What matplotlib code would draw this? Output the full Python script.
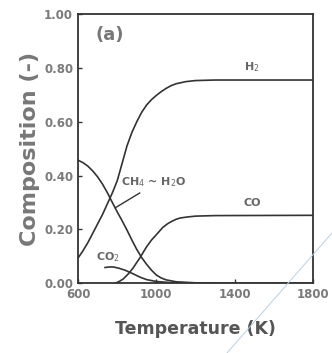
import matplotlib
matplotlib.use("Agg")
import matplotlib.pyplot as plt
from matplotlib.lines import Line2D

# ---- data ----
h2_T = [600, 625, 650, 675, 700, 725, 750, 775, 800, 825, 850, 875, 900, 925, 950, 975,
        1000, 1025, 1050, 1075, 1100, 1150, 1200, 1300, 1800]
h2_v = [0.093, 0.12, 0.15, 0.185, 0.22, 0.255, 0.295, 0.335, 0.38, 0.445, 0.51, 0.56, 0.60,
        0.635, 0.662, 0.682, 0.698, 0.712, 0.724, 0.734, 0.741, 0.749, 0.753, 0.755, 0.755]

ch4_T = [600, 625, 650, 675, 700, 725, 750, 775, 800, 825, 850, 875, 900, 925, 950, 975,
         1000, 1025, 1050, 1100, 1200, 1400, 1800]
ch4_v = [0.457, 0.448, 0.435, 0.417, 0.395, 0.368, 0.336, 0.30, 0.265, 0.232, 0.197, 0.16,
         0.125, 0.095, 0.07, 0.048, 0.03, 0.019, 0.012, 0.005, 0.001, 0.0, 0.0]

co_T = [790, 810, 830, 855, 880, 900, 917, 935, 950, 975, 1000, 1034, 1060, 1080, 1100,
        1121, 1160, 1200, 1300, 1800]
co_v = [0.0, 0.006, 0.015, 0.033, 0.055, 0.077, 0.095, 0.117, 0.135, 0.16, 0.18, 0.208,
        0.222, 0.23, 0.237, 0.242, 0.246, 0.249, 0.251, 0.252]

co2_T = [738, 760, 780, 810, 840, 880, 917, 950, 1000, 1070, 1150]
co2_v = [0.058, 0.06, 0.06, 0.055, 0.048, 0.035, 0.022, 0.013, 0.006, 0.002, 0.0]

x_ticks = [600, 1000, 1400, 1800]
y_ticks = [0.0, 0.2, 0.4, 0.6, 0.8, 1.0]
y_ticklabels = ["0.00", "0.20", "0.40", "0.60", "0.80", "1.00"]

# ---- figure ----
fig = plt.figure(figsize=(3.32, 3.53), dpi=100)
ax = fig.add_axes([0.235, 0.198, 0.708, 0.762])

lc = "#333333"
lw = 1.2
ax.plot(h2_T, h2_v, color=lc, lw=lw)
ax.plot(ch4_T, ch4_v, color=lc, lw=lw)
ax.plot(co_T, co_v, color=lc, lw=lw)
ax.plot(co2_T, co2_v, color=lc, lw=lw)

ax.set_xlim(600, 1800)
ax.set_ylim(0, 1.0)
ax.set_xticks(x_ticks)
ax.set_yticks(y_ticks)
ax.set_yticklabels(y_ticklabels)

tick_col = "#7a7a7a"
ax.tick_params(direction="in", length=3, width=1, colors=lc, labelcolor=tick_col,
               labelsize=8.5)
for lab in ax.get_xticklabels() + ax.get_yticklabels():
    lab.set_fontweight("bold")
for s in ax.spines.values():
    s.set_linewidth(1.3)
    s.set_color(lc)

ax.set_xlabel("Temperature (K)", fontsize=12.5, fontweight="bold", color="#555555", labelpad=14)
ax.set_ylabel("Composition (-)", fontsize=16, fontweight="bold", color="#777777", labelpad=3)

lab_col = "#666666"
ax.text(0.075, 0.905, "(a)", transform=ax.transAxes, fontsize=13, fontweight="bold", color="#777777")
ax.text(1445, 0.79, "H$_2$", fontsize=8, fontweight="bold", color=lab_col)
ax.text(1445, 0.285, "CO", fontsize=8, fontweight="bold", color=lab_col)
ax.text(690, 0.085, "CO$_2$", fontsize=8, fontweight="bold", color=lab_col)
ax.text(820, 0.365, "CH$_4$ ~ H$_2$O", fontsize=8, fontweight="bold", color=lab_col)
# leader line from label to CH4 curve
ax.plot([790, 915], [0.28, 0.335], color=lc, lw=1.0)

# faint scanner artifact line
fig.add_artist(Line2D([227 / 332, 1.0], [0.0, 1 - 233 / 353], transform=fig.transFigure,
                      color="#b5d0ea", lw=0.7))

fig.savefig("out.png", dpi=100)
